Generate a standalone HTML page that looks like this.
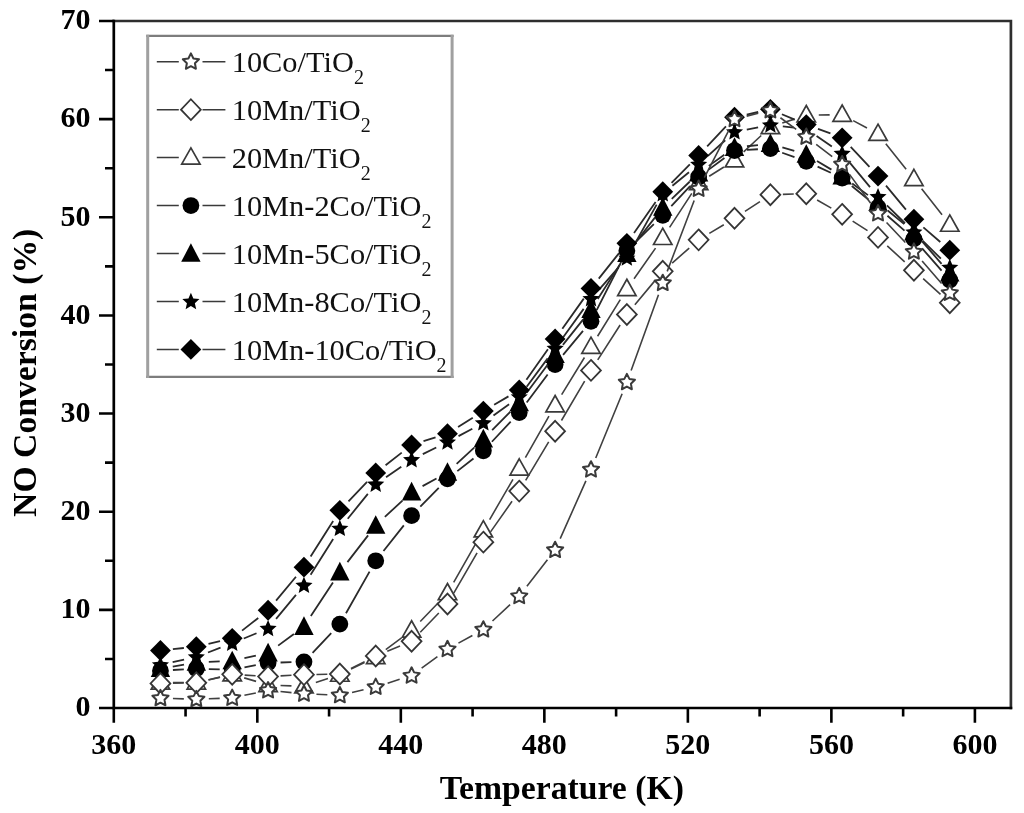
<!DOCTYPE html>
<html><head><meta charset="utf-8"><style>
html,body{margin:0;padding:0;background:#fff;}
body{width:1024px;height:813px;overflow:hidden;}
svg{display:block;filter:blur(0.45px);}
.tk{font-family:"Liberation Serif",serif;font-weight:bold;font-size:30px;fill:#000;}
.ax{font-family:"Liberation Serif",serif;font-weight:bold;font-size:33.7px;fill:#000;}
.lg{font-family:"Liberation Serif",serif;font-size:30.4px;fill:#111;}
.sub{font-size:20px;}
</style></head><body>
<svg width="1024" height="813" viewBox="0 0 1024 813">
<path d="M113.80 21.00H1010.90V708.00" fill="none" stroke="#2e2e2e" stroke-width="2.7" stroke-linecap="square"/>
<path d="M113.80 21.00V708.00H1010.90" fill="none" stroke="#000" stroke-width="2.7" stroke-linecap="square"/>
<path d="M99.00 708.00H113.80M105.00 658.93H113.80M99.00 609.86H113.80M105.00 560.79H113.80M99.00 511.71H113.80M105.00 462.64H113.80M99.00 413.57H113.80M105.00 364.50H113.80M99.00 315.43H113.80M105.00 266.36H113.80M99.00 217.29H113.80M105.00 168.21H113.80M99.00 119.14H113.80M105.00 70.07H113.80M99.00 21.00H113.80M113.80 708.00V722.70M185.56 708.00V716.50M257.32 708.00V722.70M329.07 708.00V716.50M400.83 708.00V722.70M472.59 708.00V716.50M544.35 708.00V722.70M616.11 708.00V716.50M687.87 708.00V722.70M759.62 708.00V716.50M831.38 708.00V722.70M903.14 708.00V716.50M974.90 708.00V722.70" stroke="#000" stroke-width="2.6" fill="none"/>
<path d="M172.94 682.48L183.82 682.48M208.51 679.72L220.01 677.10M244.19 677.88L256.09 681.39M280.57 685.45L291.47 685.90M315.84 682.51L327.96 678.53M351.05 669.11L364.50 662.49M385.77 649.54L401.54 637.89M420.26 621.46L438.81 602.18M453.68 582.32L477.16 541.22M489.63 519.55L512.96 479.34M525.40 457.66L548.95 416.10M561.66 394.58L584.45 357.48M597.58 336.21L620.29 299.56M634.06 278.70L655.56 248.12M669.58 227.43L691.80 193.40M709.21 176.28L723.93 167.02M743.66 151.85L761.24 135.51M782.27 123.10L794.39 119.12M818.77 115.05L829.65 114.90M853.18 120.61L867.00 127.98M885.80 143.65L906.13 169.22M921.63 188.84L942.06 214.82" stroke="#404040" stroke-width="1.60" fill="none"/>
<polygon points="160.44,672.78 169.64,689.08 151.24,689.08" fill="#fff" stroke="#3a3a3a" stroke-width="1.7"/>
<polygon points="196.32,672.78 205.52,689.08 187.12,689.08" fill="#fff" stroke="#3a3a3a" stroke-width="1.7"/>
<polygon points="232.20,664.64 241.40,680.94 223.00,680.94" fill="#fff" stroke="#3a3a3a" stroke-width="1.7"/>
<polygon points="268.08,675.24 277.28,691.54 258.88,691.54" fill="#fff" stroke="#3a3a3a" stroke-width="1.7"/>
<polygon points="303.96,676.71 313.16,693.01 294.76,693.01" fill="#fff" stroke="#3a3a3a" stroke-width="1.7"/>
<polygon points="339.84,664.93 349.04,681.23 330.64,681.23" fill="#fff" stroke="#3a3a3a" stroke-width="1.7"/>
<polygon points="375.72,647.27 384.92,663.57 366.52,663.57" fill="#fff" stroke="#3a3a3a" stroke-width="1.7"/>
<polygon points="411.60,620.77 420.80,637.07 402.40,637.07" fill="#fff" stroke="#3a3a3a" stroke-width="1.7"/>
<polygon points="447.48,583.47 456.68,599.77 438.28,599.77" fill="#fff" stroke="#3a3a3a" stroke-width="1.7"/>
<polygon points="483.36,520.66 492.56,536.96 474.16,536.96" fill="#fff" stroke="#3a3a3a" stroke-width="1.7"/>
<polygon points="519.23,458.83 528.43,475.13 510.03,475.13" fill="#fff" stroke="#3a3a3a" stroke-width="1.7"/>
<polygon points="555.11,395.53 564.31,411.83 545.91,411.83" fill="#fff" stroke="#3a3a3a" stroke-width="1.7"/>
<polygon points="590.99,337.13 600.19,353.43 581.79,353.43" fill="#fff" stroke="#3a3a3a" stroke-width="1.7"/>
<polygon points="626.87,279.23 636.07,295.53 617.67,295.53" fill="#fff" stroke="#3a3a3a" stroke-width="1.7"/>
<polygon points="662.75,228.20 671.95,244.50 653.55,244.50" fill="#fff" stroke="#3a3a3a" stroke-width="1.7"/>
<polygon points="698.63,173.24 707.83,189.54 689.43,189.54" fill="#fff" stroke="#3a3a3a" stroke-width="1.7"/>
<polygon points="734.51,150.66 743.71,166.96 725.31,166.96" fill="#fff" stroke="#3a3a3a" stroke-width="1.7"/>
<polygon points="770.39,117.29 779.59,133.59 761.19,133.59" fill="#fff" stroke="#3a3a3a" stroke-width="1.7"/>
<polygon points="806.27,105.52 815.47,121.82 797.07,121.82" fill="#fff" stroke="#3a3a3a" stroke-width="1.7"/>
<polygon points="842.15,105.03 851.35,121.33 832.95,121.33" fill="#fff" stroke="#3a3a3a" stroke-width="1.7"/>
<polygon points="878.03,124.16 887.23,140.46 868.83,140.46" fill="#fff" stroke="#3a3a3a" stroke-width="1.7"/>
<polygon points="913.91,169.31 923.11,185.61 904.71,185.61" fill="#fff" stroke="#3a3a3a" stroke-width="1.7"/>
<polygon points="949.78,214.95 958.98,231.25 940.58,231.25" fill="#fff" stroke="#3a3a3a" stroke-width="1.7"/>
<path d="M172.92 670.02L183.84 669.43M208.82 669.08L219.71 669.38M244.48 667.37L255.80 665.21M280.58 662.51L291.46 662.21M312.57 652.81L331.23 633.15M346.00 613.21L369.55 571.66M383.50 551.00L403.82 525.43M420.32 506.69L438.75 487.79M457.33 471.15L473.50 458.55M491.90 441.75L510.69 421.71M526.71 402.57L547.64 374.52M563.10 354.89L583.00 330.93M596.65 310.17L621.21 261.80M635.78 241.88L653.84 224.09M671.30 206.20L690.08 186.17M708.69 169.62L724.45 157.97M746.99 149.87L757.91 149.27M782.17 152.77L794.49 157.16M817.60 166.61L830.81 172.76M851.81 185.96L868.36 199.54M887.43 215.70L904.50 230.64M922.11 248.31L941.58 270.67" stroke="#2a2a2a" stroke-width="1.80" fill="none"/>
<circle cx="160.44" cy="670.71" r="8.40" fill="#000"/>
<circle cx="196.32" cy="668.74" r="8.40" fill="#000"/>
<circle cx="232.20" cy="669.72" r="8.40" fill="#000"/>
<circle cx="268.08" cy="662.85" r="8.40" fill="#000"/>
<circle cx="303.96" cy="661.87" r="8.40" fill="#000"/>
<circle cx="339.84" cy="624.09" r="8.40" fill="#000"/>
<circle cx="375.72" cy="560.79" r="8.40" fill="#000"/>
<circle cx="411.60" cy="515.64" r="8.40" fill="#000"/>
<circle cx="447.48" cy="478.84" r="8.40" fill="#000"/>
<circle cx="483.36" cy="450.87" r="8.40" fill="#000"/>
<circle cx="519.23" cy="412.59" r="8.40" fill="#000"/>
<circle cx="555.11" cy="364.50" r="8.40" fill="#000"/>
<circle cx="590.99" cy="321.32" r="8.40" fill="#000"/>
<circle cx="626.87" cy="250.65" r="8.40" fill="#000"/>
<circle cx="662.75" cy="215.32" r="8.40" fill="#000"/>
<circle cx="698.63" cy="177.05" r="8.40" fill="#000"/>
<circle cx="734.51" cy="150.55" r="8.40" fill="#000"/>
<circle cx="770.39" cy="148.59" r="8.40" fill="#000"/>
<circle cx="806.27" cy="161.34" r="8.40" fill="#000"/>
<circle cx="842.15" cy="178.03" r="8.40" fill="#000"/>
<circle cx="878.03" cy="207.47" r="8.40" fill="#000"/>
<circle cx="913.91" cy="238.88" r="8.40" fill="#000"/>
<circle cx="949.78" cy="280.10" r="8.40" fill="#000"/>
<path d="M172.75 666.55L184.02 664.55M208.81 661.85L219.71 661.40M244.41 658.22L255.87 655.71M278.14 645.61L293.90 633.97M310.84 616.10L332.96 582.51M347.46 562.17L368.09 535.36M384.87 516.94L402.44 500.60M422.56 486.09L436.51 478.46M456.63 463.94L474.20 447.60M492.14 430.20L510.45 411.67M526.71 392.76L547.64 364.70M562.89 344.90L583.22 319.33M597.74 299.02L620.12 264.12M634.55 243.73L655.08 217.34M671.78 198.83L689.60 181.77M708.82 165.88L724.32 154.85M746.94 146.24L757.96 145.04M782.36 147.28L794.30 150.87M816.98 160.92L831.44 169.62M852.20 183.49L867.97 195.14M887.69 210.49L904.24 224.08M922.11 241.44L941.58 263.80" stroke="#2a2a2a" stroke-width="1.80" fill="none"/>
<polygon points="160.44,658.51 170.14,677.11 150.74,677.11" fill="#000"/>
<polygon points="196.32,652.13 206.02,670.73 186.62,670.73" fill="#000"/>
<polygon points="232.20,650.66 241.90,669.26 222.50,669.26" fill="#000"/>
<polygon points="268.08,642.81 277.78,661.41 258.38,661.41" fill="#000"/>
<polygon points="303.96,616.31 313.66,634.91 294.26,634.91" fill="#000"/>
<polygon points="339.84,561.84 349.54,580.44 330.14,580.44" fill="#000"/>
<polygon points="375.72,515.22 385.42,533.82 366.02,533.82" fill="#000"/>
<polygon points="411.60,481.86 421.30,500.46 401.90,500.46" fill="#000"/>
<polygon points="447.48,462.23 457.18,480.83 437.78,480.83" fill="#000"/>
<polygon points="483.36,428.86 493.06,447.46 473.66,447.46" fill="#000"/>
<polygon points="519.23,392.55 528.93,411.15 509.53,411.15" fill="#000"/>
<polygon points="555.11,344.46 564.81,363.06 545.41,363.06" fill="#000"/>
<polygon points="590.99,299.31 600.69,317.91 581.29,317.91" fill="#000"/>
<polygon points="626.87,243.37 636.57,261.97 617.17,261.97" fill="#000"/>
<polygon points="662.75,197.24 672.45,215.84 653.05,215.84" fill="#000"/>
<polygon points="698.63,162.89 708.33,181.49 688.93,181.49" fill="#000"/>
<polygon points="734.51,137.37 744.21,155.97 724.81,155.97" fill="#000"/>
<polygon points="770.39,133.45 780.09,152.05 760.69,152.05" fill="#000"/>
<polygon points="806.27,144.24 815.97,162.84 796.57,162.84" fill="#000"/>
<polygon points="842.15,165.84 851.85,184.44 832.45,184.44" fill="#000"/>
<polygon points="878.03,192.33 887.73,210.93 868.33,210.93" fill="#000"/>
<polygon points="913.91,221.78 923.61,240.38 904.21,240.38" fill="#000"/>
<polygon points="949.78,263.00 959.48,281.60 940.08,281.60" fill="#000"/>
<path d="M172.65 662.15L184.11 659.64M208.00 652.50L220.53 647.70M243.77 638.48L256.52 633.25M276.07 618.89L295.97 594.94M310.62 574.75L333.17 538.97M347.72 518.70L367.84 493.94M386.04 477.18L401.28 466.75M422.81 454.18L436.26 447.55M458.51 436.15L472.33 428.78M493.48 415.56L509.11 404.22M526.66 386.83L547.69 358.36M562.44 338.18L583.66 308.87M599.26 289.36L618.61 267.39M632.96 247.10L656.66 204.65M672.41 185.80L688.97 172.22M707.91 155.91L725.23 140.28M746.79 129.55L758.11 127.38M782.81 126.39L793.84 127.60M816.59 136.01L831.83 146.44M850.14 163.11L870.04 187.06M886.93 205.45L905.00 223.24M922.81 240.78L940.88 258.57" stroke="#2a2a2a" stroke-width="1.80" fill="none"/>
<polygon points="160.44,656.22 162.88,661.87 169.00,662.44 164.38,666.50 165.73,672.50 160.44,669.36 155.15,672.50 156.51,666.50 151.88,662.44 158.01,661.87" fill="#000"/>
<polygon points="196.32,648.37 198.76,654.02 204.88,654.58 200.26,658.65 201.61,664.65 196.32,661.51 191.03,664.65 192.38,658.65 187.76,654.58 193.89,654.02" fill="#000"/>
<polygon points="232.20,634.63 234.63,640.28 240.76,640.84 236.14,644.91 237.49,650.91 232.20,647.77 226.91,650.91 228.26,644.91 223.64,640.84 229.77,640.28" fill="#000"/>
<polygon points="268.08,619.90 270.51,625.55 276.64,626.12 272.02,630.18 273.37,636.19 268.08,633.04 262.79,636.19 264.14,630.18 259.52,626.12 265.65,625.55" fill="#000"/>
<polygon points="303.96,576.72 306.39,582.37 312.52,582.94 307.90,587.00 309.25,593.00 303.96,589.86 298.67,593.00 300.02,587.00 295.40,582.94 301.53,582.37" fill="#000"/>
<polygon points="339.84,519.80 342.27,525.45 348.40,526.02 343.78,530.08 345.13,536.08 339.84,532.94 334.55,536.08 335.90,530.08 331.28,526.02 337.41,525.45" fill="#000"/>
<polygon points="375.72,475.63 378.15,481.28 384.28,481.85 379.66,485.91 381.01,491.92 375.72,488.77 370.43,491.92 371.78,485.91 367.16,481.85 373.28,481.28" fill="#000"/>
<polygon points="411.60,451.10 414.03,456.75 420.16,457.32 415.53,461.38 416.89,467.38 411.60,464.24 406.31,467.38 407.66,461.38 403.04,457.32 409.16,456.75" fill="#000"/>
<polygon points="447.48,433.43 449.91,439.08 456.04,439.65 451.41,443.71 452.77,449.71 447.48,446.57 442.19,449.71 443.54,443.71 438.92,439.65 445.04,439.08" fill="#000"/>
<polygon points="483.36,414.29 485.79,419.95 491.91,420.51 487.29,424.57 488.65,430.58 483.36,427.43 478.07,430.58 479.42,424.57 474.80,420.51 480.92,419.95" fill="#000"/>
<polygon points="519.23,388.29 521.67,393.94 527.79,394.51 523.17,398.57 524.52,404.57 519.23,401.43 513.94,404.57 515.30,398.57 510.68,394.51 516.80,393.94" fill="#000"/>
<polygon points="555.11,339.71 557.55,345.36 563.67,345.93 559.05,349.99 560.40,355.99 555.11,352.85 549.82,355.99 551.18,349.99 546.55,345.93 552.68,345.36" fill="#000"/>
<polygon points="590.99,290.14 593.43,295.79 599.55,296.36 594.93,300.42 596.28,306.43 590.99,303.28 585.70,306.43 587.06,300.42 582.43,296.36 588.56,295.79" fill="#000"/>
<polygon points="626.87,249.41 629.31,255.07 635.43,255.63 630.81,259.69 632.16,265.70 626.87,262.55 621.58,265.70 622.93,259.69 618.31,255.63 624.44,255.07" fill="#000"/>
<polygon points="662.75,185.13 665.18,190.78 671.31,191.35 666.69,195.41 668.04,201.41 662.75,198.27 657.46,201.41 658.81,195.41 654.19,191.35 660.32,190.78" fill="#000"/>
<polygon points="698.63,155.69 701.06,161.34 707.19,161.91 702.57,165.97 703.92,171.97 698.63,168.83 693.34,171.97 694.69,165.97 690.07,161.91 696.20,161.34" fill="#000"/>
<polygon points="734.51,123.30 736.94,128.95 743.07,129.52 738.45,133.58 739.80,139.58 734.51,136.44 729.22,139.58 730.57,133.58 725.95,129.52 732.08,128.95" fill="#000"/>
<polygon points="770.39,116.43 772.82,122.08 778.95,122.65 774.33,126.71 775.68,132.71 770.39,129.57 765.10,132.71 766.45,126.71 761.83,122.65 767.96,122.08" fill="#000"/>
<polygon points="806.27,120.36 808.70,126.01 814.83,126.58 810.21,130.64 811.56,136.64 806.27,133.50 800.98,136.64 802.33,130.64 797.71,126.58 803.83,126.01" fill="#000"/>
<polygon points="842.15,144.89 844.58,150.54 850.71,151.11 846.08,155.17 847.44,161.17 842.15,158.03 836.86,161.17 838.21,155.17 833.59,151.11 839.71,150.54" fill="#000"/>
<polygon points="878.03,188.08 880.46,193.73 886.59,194.29 881.96,198.36 883.32,204.36 878.03,201.22 872.74,204.36 874.09,198.36 869.47,194.29 875.59,193.73" fill="#000"/>
<polygon points="913.91,223.41 916.34,229.06 922.46,229.63 917.84,233.69 919.20,239.69 913.91,236.55 908.62,239.69 909.97,233.69 905.35,229.63 911.47,229.06" fill="#000"/>
<polygon points="949.78,258.74 952.22,264.39 958.34,264.96 953.72,269.02 955.07,275.02 949.78,271.88 944.49,275.02 945.85,269.02 941.23,264.96 947.35,264.39" fill="#000"/>
<path d="M172.87 649.16L183.89 647.99M208.50 643.83L220.03 641.15M242.05 630.62L258.24 617.95M276.08 600.64L295.96 576.77M310.63 556.60L333.17 520.91M348.49 501.32L367.06 481.97M385.58 465.26L401.74 452.66M423.52 441.23L435.55 437.44M458.06 427.03L472.78 417.77M494.13 404.78L508.46 396.35M526.42 379.79L547.92 349.21M562.35 328.79L583.76 298.63M598.77 278.65L619.09 253.08M634.02 233.04L655.61 202.03M671.54 182.88L689.84 164.35M707.18 146.34L725.96 126.30M746.72 114.51L758.18 112.00M781.90 114.21L794.76 119.66M817.99 128.87L830.42 133.46M850.70 146.91L869.48 166.95M886.01 185.68L905.92 209.63M923.38 227.41L940.31 242.00" stroke="#2a2a2a" stroke-width="1.80" fill="none"/>
<polygon points="160.44,640.09 170.84,650.49 160.44,660.89 150.04,650.49" fill="#000"/>
<polygon points="196.32,636.26 206.72,646.66 196.32,657.06 185.92,646.66" fill="#000"/>
<polygon points="232.20,627.92 242.60,638.32 232.20,648.72 221.80,638.32" fill="#000"/>
<polygon points="268.08,599.85 278.48,610.25 268.08,620.65 257.68,610.25" fill="#000"/>
<polygon points="303.96,556.76 314.36,567.16 303.96,577.56 293.56,567.16" fill="#000"/>
<polygon points="339.84,499.94 350.24,510.34 339.84,520.74 329.44,510.34" fill="#000"/>
<polygon points="375.72,462.55 386.12,472.95 375.72,483.35 365.32,472.95" fill="#000"/>
<polygon points="411.60,434.58 422.00,444.98 411.60,455.38 401.20,444.98" fill="#000"/>
<polygon points="447.48,423.29 457.88,433.69 447.48,444.09 437.08,433.69" fill="#000"/>
<polygon points="483.36,400.72 493.76,411.12 483.36,421.52 472.96,411.12" fill="#000"/>
<polygon points="519.23,379.62 529.63,390.02 519.23,400.42 508.83,390.02" fill="#000"/>
<polygon points="555.11,328.58 565.51,338.98 555.11,349.38 544.71,338.98" fill="#000"/>
<polygon points="590.99,278.04 601.39,288.44 590.99,298.84 580.59,288.44" fill="#000"/>
<polygon points="626.87,232.89 637.27,243.29 626.87,253.69 616.47,243.29" fill="#000"/>
<polygon points="662.75,181.37 673.15,191.77 662.75,202.17 652.35,191.77" fill="#000"/>
<polygon points="698.63,145.06 709.03,155.46 698.63,165.86 688.23,155.46" fill="#000"/>
<polygon points="734.51,106.78 744.91,117.18 734.51,127.58 724.11,117.18" fill="#000"/>
<polygon points="770.39,98.93 780.79,109.33 770.39,119.73 759.99,109.33" fill="#000"/>
<polygon points="806.27,114.14 816.67,124.54 806.27,134.94 795.87,124.54" fill="#000"/>
<polygon points="842.15,127.39 852.55,137.79 842.15,148.19 831.75,137.79" fill="#000"/>
<polygon points="878.03,165.67 888.43,176.07 878.03,186.47 867.63,176.07" fill="#000"/>
<polygon points="913.91,208.85 924.31,219.25 913.91,229.65 903.51,219.25" fill="#000"/>
<polygon points="949.78,239.76 960.18,250.16 949.78,260.56 939.38,250.16" fill="#000"/>
<path d="M172.94 683.22L183.82 683.02M208.49 679.91L220.03 677.20M244.68 675.12L255.61 675.81M280.56 675.91L291.48 675.31M316.46 674.43L327.34 674.25M351.00 668.42L364.55 661.60M387.28 651.24L400.03 646.01M420.26 632.25L438.81 612.98M453.75 593.16L477.08 552.95M490.54 531.91L512.05 501.33M525.66 480.38L548.69 441.96M561.46 420.47L584.64 381.16M597.74 359.87L620.12 324.97M634.86 304.83L654.76 280.88M672.16 263.03L689.22 248.09M709.34 233.41L723.80 224.71M744.96 211.41L759.94 201.57M782.88 194.37L793.77 194.07M817.11 199.96L831.31 208.12M852.66 221.10L867.51 230.65M887.24 245.85L904.69 261.84M923.18 278.66L940.51 294.29" stroke="#404040" stroke-width="1.60" fill="none"/>
<polygon points="160.44,673.06 170.34,683.46 160.44,693.86 150.54,683.46" fill="#fff" stroke="#353535" stroke-width="1.8"/>
<polygon points="196.32,672.38 206.22,682.78 196.32,693.18 186.42,682.78" fill="#fff" stroke="#353535" stroke-width="1.8"/>
<polygon points="232.20,663.94 242.10,674.34 232.20,684.74 222.30,674.34" fill="#fff" stroke="#353535" stroke-width="1.8"/>
<polygon points="268.08,666.19 277.98,676.59 268.08,686.99 258.18,676.59" fill="#fff" stroke="#353535" stroke-width="1.8"/>
<polygon points="303.96,664.23 313.86,674.63 303.96,685.03 294.06,674.63" fill="#fff" stroke="#353535" stroke-width="1.8"/>
<polygon points="339.84,663.64 349.74,674.04 339.84,684.44 329.94,674.04" fill="#fff" stroke="#353535" stroke-width="1.8"/>
<polygon points="375.72,645.58 385.62,655.98 375.72,666.38 365.82,655.98" fill="#fff" stroke="#353535" stroke-width="1.8"/>
<polygon points="411.60,630.86 421.50,641.26 411.60,651.66 401.70,641.26" fill="#fff" stroke="#353535" stroke-width="1.8"/>
<polygon points="447.48,593.57 457.38,603.97 447.48,614.37 437.58,603.97" fill="#fff" stroke="#353535" stroke-width="1.8"/>
<polygon points="483.36,531.74 493.26,542.14 483.36,552.54 473.46,542.14" fill="#fff" stroke="#353535" stroke-width="1.8"/>
<polygon points="519.23,480.70 529.13,491.10 519.23,501.50 509.33,491.10" fill="#fff" stroke="#353535" stroke-width="1.8"/>
<polygon points="555.11,420.84 565.01,431.24 555.11,441.64 545.21,431.24" fill="#fff" stroke="#353535" stroke-width="1.8"/>
<polygon points="590.99,359.99 600.89,370.39 590.99,380.79 581.09,370.39" fill="#fff" stroke="#353535" stroke-width="1.8"/>
<polygon points="626.87,304.05 636.77,314.45 626.87,324.85 616.97,314.45" fill="#fff" stroke="#353535" stroke-width="1.8"/>
<polygon points="662.75,260.86 672.65,271.26 662.75,281.66 652.85,271.26" fill="#fff" stroke="#353535" stroke-width="1.8"/>
<polygon points="698.63,229.46 708.53,239.86 698.63,250.26 688.73,239.86" fill="#fff" stroke="#353535" stroke-width="1.8"/>
<polygon points="734.51,207.87 744.41,218.27 734.51,228.67 724.61,218.27" fill="#fff" stroke="#353535" stroke-width="1.8"/>
<polygon points="770.39,184.31 780.29,194.71 770.39,205.11 760.49,194.71" fill="#fff" stroke="#353535" stroke-width="1.8"/>
<polygon points="806.27,183.33 816.17,193.73 806.27,204.13 796.37,193.73" fill="#fff" stroke="#353535" stroke-width="1.8"/>
<polygon points="842.15,203.94 852.05,214.34 842.15,224.74 832.25,214.34" fill="#fff" stroke="#353535" stroke-width="1.8"/>
<polygon points="878.03,227.00 887.93,237.40 878.03,247.80 868.13,237.40" fill="#fff" stroke="#353535" stroke-width="1.8"/>
<polygon points="913.91,259.88 923.81,270.28 913.91,280.68 904.01,270.28" fill="#fff" stroke="#353535" stroke-width="1.8"/>
<polygon points="949.78,292.27 959.68,302.67 949.78,313.07 939.88,302.67" fill="#fff" stroke="#353535" stroke-width="1.8"/>
<path d="M172.94 698.53L183.83 698.83M208.81 698.72L219.71 698.34M244.43 695.32L255.85 692.91M280.52 691.53L291.52 692.58M316.45 694.28L327.35 694.73M352.01 692.41L363.54 689.73M387.64 683.15L399.67 679.36M421.65 668.19L437.42 656.54M458.44 643.11L472.39 635.49M492.51 620.97L510.08 604.63M526.91 586.25L547.44 559.86M560.20 538.57L585.90 480.93M595.74 457.95L622.12 393.73M631.13 370.41L658.50 294.80M667.20 271.36L694.18 200.51M704.35 177.71L728.79 130.26M746.65 116.15L758.25 113.30M780.44 117.74L796.21 129.38M816.19 144.41L832.22 156.69M849.52 174.38L870.65 203.27M886.57 222.48L905.36 242.52M922.11 261.06L941.58 283.43" stroke="#404040" stroke-width="1.60" fill="none"/>
<polygon points="160.44,689.89 162.94,694.95 168.53,695.76 164.48,699.70 165.44,705.26 160.44,702.64 155.45,705.26 156.40,699.70 152.36,695.76 157.94,694.95" fill="#fff" stroke="#3a3a3a" stroke-width="2" stroke-linejoin="round"/>
<polygon points="196.32,690.87 198.82,695.93 204.41,696.74 200.36,700.68 201.32,706.24 196.32,703.62 191.33,706.24 192.28,700.68 188.24,696.74 193.82,695.93" fill="#fff" stroke="#3a3a3a" stroke-width="2" stroke-linejoin="round"/>
<polygon points="232.20,689.59 234.70,694.65 240.29,695.46 236.24,699.40 237.20,704.97 232.20,702.34 227.21,704.97 228.16,699.40 224.12,695.46 229.70,694.65" fill="#fff" stroke="#3a3a3a" stroke-width="2" stroke-linejoin="round"/>
<polygon points="268.08,682.03 270.58,687.10 276.16,687.91 272.12,691.85 273.08,697.41 268.08,694.78 263.08,697.41 264.04,691.85 260.00,687.91 265.58,687.10" fill="#fff" stroke="#3a3a3a" stroke-width="2" stroke-linejoin="round"/>
<polygon points="303.96,685.47 306.46,690.53 312.04,691.34 308.00,695.28 308.96,700.85 303.96,698.22 298.96,700.85 299.92,695.28 295.88,691.34 301.46,690.53" fill="#fff" stroke="#3a3a3a" stroke-width="2" stroke-linejoin="round"/>
<polygon points="339.84,686.94 342.34,692.00 347.92,692.81 343.88,696.75 344.83,702.32 339.84,699.69 334.84,702.32 335.80,696.75 331.75,692.81 337.34,692.00" fill="#fff" stroke="#3a3a3a" stroke-width="2" stroke-linejoin="round"/>
<polygon points="375.72,678.60 378.22,683.66 383.80,684.47 379.76,688.41 380.71,693.98 375.72,691.35 370.72,693.98 371.68,688.41 367.63,684.47 373.22,683.66" fill="#fff" stroke="#3a3a3a" stroke-width="2" stroke-linejoin="round"/>
<polygon points="411.60,667.31 414.10,672.37 419.68,673.19 415.64,677.13 416.59,682.69 411.60,680.06 406.60,682.69 407.56,677.13 403.51,673.19 409.10,672.37" fill="#fff" stroke="#3a3a3a" stroke-width="2" stroke-linejoin="round"/>
<polygon points="447.48,640.81 449.97,645.88 455.56,646.69 451.52,650.63 452.47,656.19 447.48,653.56 442.48,656.19 443.43,650.63 439.39,646.69 444.98,645.88" fill="#fff" stroke="#3a3a3a" stroke-width="2" stroke-linejoin="round"/>
<polygon points="483.36,621.19 485.85,626.25 491.44,627.06 487.40,631.00 488.35,636.56 483.36,633.94 478.36,636.56 479.31,631.00 475.27,627.06 480.86,626.25" fill="#fff" stroke="#3a3a3a" stroke-width="2" stroke-linejoin="round"/>
<polygon points="519.23,587.82 521.73,592.88 527.32,593.69 523.28,597.63 524.23,603.19 519.23,600.57 514.24,603.19 515.19,597.63 511.15,593.69 516.74,592.88" fill="#fff" stroke="#3a3a3a" stroke-width="2" stroke-linejoin="round"/>
<polygon points="555.11,541.69 557.61,546.75 563.20,547.56 559.16,551.50 560.11,557.07 555.11,554.44 550.12,557.07 551.07,551.50 547.03,547.56 552.62,546.75" fill="#fff" stroke="#3a3a3a" stroke-width="2" stroke-linejoin="round"/>
<polygon points="590.99,461.21 593.49,466.27 599.08,467.09 595.03,471.03 595.99,476.59 590.99,473.96 586.00,476.59 586.95,471.03 582.91,467.09 588.49,466.27" fill="#fff" stroke="#3a3a3a" stroke-width="2" stroke-linejoin="round"/>
<polygon points="626.87,373.87 629.37,378.93 634.96,379.74 630.91,383.68 631.87,389.24 626.87,386.62 621.88,389.24 622.83,383.68 618.79,379.74 624.37,378.93" fill="#fff" stroke="#3a3a3a" stroke-width="2" stroke-linejoin="round"/>
<polygon points="662.75,274.74 665.25,279.80 670.84,280.61 666.79,284.55 667.75,290.12 662.75,287.49 657.76,290.12 658.71,284.55 654.67,280.61 660.25,279.80" fill="#fff" stroke="#3a3a3a" stroke-width="2" stroke-linejoin="round"/>
<polygon points="698.63,180.52 701.13,185.59 706.71,186.40 702.67,190.34 703.63,195.90 698.63,193.27 693.63,195.90 694.59,190.34 690.55,186.40 696.13,185.59" fill="#fff" stroke="#3a3a3a" stroke-width="2" stroke-linejoin="round"/>
<polygon points="734.51,110.84 737.01,115.90 742.59,116.72 738.55,120.66 739.51,126.22 734.51,123.59 729.51,126.22 730.47,120.66 726.43,116.72 732.01,115.90" fill="#fff" stroke="#3a3a3a" stroke-width="2" stroke-linejoin="round"/>
<polygon points="770.39,102.01 772.89,107.07 778.47,107.88 774.43,111.82 775.38,117.39 770.39,114.76 765.39,117.39 766.35,111.82 762.30,107.88 767.89,107.07" fill="#fff" stroke="#3a3a3a" stroke-width="2" stroke-linejoin="round"/>
<polygon points="806.27,128.51 808.77,133.57 814.35,134.38 810.31,138.32 811.26,143.89 806.27,141.26 801.27,143.89 802.23,138.32 798.18,134.38 803.77,133.57" fill="#fff" stroke="#3a3a3a" stroke-width="2" stroke-linejoin="round"/>
<polygon points="842.15,155.99 844.65,161.05 850.23,161.86 846.19,165.80 847.14,171.37 842.15,168.74 837.15,171.37 838.11,165.80 834.06,161.86 839.65,161.05" fill="#fff" stroke="#3a3a3a" stroke-width="2" stroke-linejoin="round"/>
<polygon points="878.03,205.06 880.52,210.12 886.11,210.93 882.07,214.87 883.02,220.44 878.03,217.81 873.03,220.44 873.98,214.87 869.94,210.93 875.53,210.12" fill="#fff" stroke="#3a3a3a" stroke-width="2" stroke-linejoin="round"/>
<polygon points="913.91,243.34 916.40,248.40 921.99,249.21 917.95,253.15 918.90,258.71 913.91,256.09 908.91,258.71 909.86,253.15 905.82,249.21 911.41,248.40" fill="#fff" stroke="#3a3a3a" stroke-width="2" stroke-linejoin="round"/>
<polygon points="949.78,284.56 952.28,289.62 957.87,290.43 953.83,294.37 954.78,299.93 949.78,297.31 944.79,299.93 945.74,294.37 941.70,290.43 947.29,289.62" fill="#fff" stroke="#3a3a3a" stroke-width="2" stroke-linejoin="round"/>
<rect x="147.7" y="35.9" width="304.4" height="340.9" fill="#fff" stroke="none"/>
<path d="M146.2 35.9H453.6M146.2 376.8H453.6" stroke="#7d7d7d" stroke-width="2.2"/>
<path d="M147.7 34.8V377.9M452.1 34.8V377.9" stroke="#a0a0a0" stroke-width="3"/>
<path d="M156.8 61.70H178.8M202.5 61.70H225.4" stroke="#3a3a3a" stroke-width="1.5"/>
<polygon points="190.90,53.40 193.40,58.46 198.98,59.27 194.94,63.21 195.90,68.78 190.90,66.15 185.90,68.78 186.86,63.21 182.82,59.27 188.40,58.46" fill="#fff" stroke="#3a3a3a" stroke-width="2" stroke-linejoin="round"/>
<text x="231.7" y="71.90" class="lg">10Co/TiO<tspan class="sub" dy="12.3">2</tspan></text>
<path d="M156.8 109.65H178.8M202.5 109.65H225.4" stroke="#3a3a3a" stroke-width="1.5"/>
<polygon points="190.90,99.25 200.80,109.65 190.90,120.05 181.00,109.65" fill="#fff" stroke="#353535" stroke-width="1.8"/>
<text x="231.7" y="119.85" class="lg">10Mn/TiO<tspan class="sub" dy="12.3">2</tspan></text>
<path d="M156.8 157.60H178.8M202.5 157.60H225.4" stroke="#3a3a3a" stroke-width="1.5"/>
<polygon points="190.90,147.90 200.10,164.20 181.70,164.20" fill="#fff" stroke="#3a3a3a" stroke-width="1.7"/>
<text x="231.7" y="167.80" class="lg">20Mn/TiO<tspan class="sub" dy="12.3">2</tspan></text>
<path d="M156.8 205.55H178.8M202.5 205.55H225.4" stroke="#3a3a3a" stroke-width="1.5"/>
<circle cx="190.90" cy="205.55" r="8.40" fill="#000"/>
<text x="231.7" y="215.75" class="lg">10Mn-2Co/TiO<tspan class="sub" dy="12.3">2</tspan></text>
<path d="M156.8 253.50H178.8M202.5 253.50H225.4" stroke="#3a3a3a" stroke-width="1.5"/>
<polygon points="190.90,243.27 200.60,261.87 181.20,261.87" fill="#000"/>
<text x="231.7" y="263.70" class="lg">10Mn-5Co/TiO<tspan class="sub" dy="12.3">2</tspan></text>
<path d="M156.8 301.45H178.8M202.5 301.45H225.4" stroke="#3a3a3a" stroke-width="1.5"/>
<polygon points="190.90,292.85 193.33,298.50 199.46,299.07 194.84,303.13 196.19,309.13 190.90,305.99 185.61,309.13 186.96,303.13 182.34,299.07 188.47,298.50" fill="#000"/>
<text x="231.7" y="311.65" class="lg">10Mn-8Co/TiO<tspan class="sub" dy="12.3">2</tspan></text>
<path d="M156.8 349.40H178.8M202.5 349.40H225.4" stroke="#3a3a3a" stroke-width="1.5"/>
<polygon points="190.90,339.00 201.30,349.40 190.90,359.80 180.50,349.40" fill="#000"/>
<text x="231.7" y="359.60" class="lg">10Mn-10Co/TiO<tspan class="sub" dy="12.3">2</tspan></text>
<text x="90.4" y="716.30" class="tk" text-anchor="end">0</text>
<text x="90.4" y="618.16" class="tk" text-anchor="end">10</text>
<text x="90.4" y="520.01" class="tk" text-anchor="end">20</text>
<text x="90.4" y="421.87" class="tk" text-anchor="end">30</text>
<text x="90.4" y="323.73" class="tk" text-anchor="end">40</text>
<text x="90.4" y="225.59" class="tk" text-anchor="end">50</text>
<text x="90.4" y="127.44" class="tk" text-anchor="end">60</text>
<text x="90.4" y="29.30" class="tk" text-anchor="end">70</text>
<text x="113.80" y="754.2" class="tk" text-anchor="middle">360</text>
<text x="257.32" y="754.2" class="tk" text-anchor="middle">400</text>
<text x="400.83" y="754.2" class="tk" text-anchor="middle">440</text>
<text x="544.35" y="754.2" class="tk" text-anchor="middle">480</text>
<text x="687.87" y="754.2" class="tk" text-anchor="middle">520</text>
<text x="831.38" y="754.2" class="tk" text-anchor="middle">560</text>
<text x="974.90" y="754.2" class="tk" text-anchor="middle">600</text>
<text x="561.8" y="798.5" class="ax" text-anchor="middle">Temperature (K)</text>
<text transform="translate(36.4,372.8) rotate(-90)" class="ax" text-anchor="middle">NO Conversion (%)</text>
</svg>
</body></html>
